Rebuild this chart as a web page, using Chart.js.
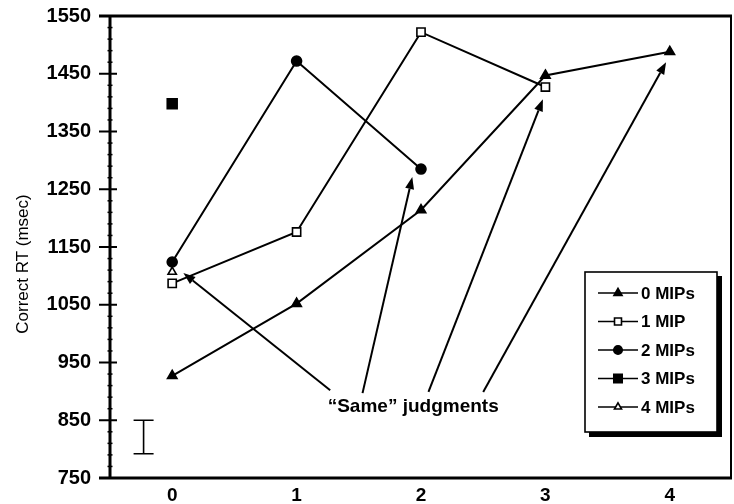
<!DOCTYPE html>
<html>
<head>
<meta charset="utf-8">
<title>Correct RT by MIPs</title>
<script src="https://cdn.jsdelivr.net/npm/chart.js@4/dist/chart.umd.min.js"></script>
<style>
  html, body { margin: 0; padding: 0; background: #fff; }
  canvas { display: block; }
</style>
</head>
<body>
<canvas id="rt" width="734" height="504"></canvas>
<script>
// Number of MIPs along the x axis
const categories = [0, 1, 2, 3, 4];
const xTickLabels = ['0', '1', '2', '3', '4'];
const yTickLabels = [750, 850, 950, 1050, 1150, 1250, 1350, 1450, 1550];

// Mean correct RT (msec) per condition
const rt0Mips = [927, 1052, 1214, 1447, 1488];
const rt1Mip  = [1087, 1176, 1522, 1427];
const rt2Mips = [1124, 1472, 1285];
const rt3Mips = [1398];
const rt4Mips = [1107];

const seriesNames = ['0 MIPs', '1 MIP', '2 MIPs', '3 MIPs', '4 MIPs'];

// Error bar (msec) drawn in the lower-left corner
const errorBarX = -0.23;
const errorBarLow = 792;
const errorBarHigh = 850;

// "Same" judgments callout: label anchor and arrows (tail -> head), in data units
const calloutText = '\u201CSame\u201D judgments';
const calloutAnchor = { x: 1.25, y: 873 };
const calloutTails = [[1.27, 902], [1.53, 897], [2.06, 899], [2.50, 899]];
const calloutHeads = [[0.09, 1105], [1.93, 1271], [2.98, 1406], [3.97, 1470]];

const toPoints = vals => vals.map((v, i) => ({ x: categories[i], y: v }));

const FONT = '"Liberation Sans", Arial, Helvetica, sans-serif';

const common = {
  borderColor: '#000',
  borderWidth: 2,
  pointBorderColor: '#000',
  pointBorderWidth: 1.6,
  showLine: true,
  tension: 0
};

const datasets = [
  { ...common, label: seriesNames[0], data: toPoints(rt0Mips),
    pointStyle: 'triangle', pointRadius: 5.5, pointBackgroundColor: '#000',
    pointRotation: [-120, -120, -120, 0, 0] },
  { ...common, label: seriesNames[1], data: toPoints(rt1Mip),
    pointStyle: 'rect', pointRadius: 5.8, pointBackgroundColor: '#fff' },
  { ...common, label: seriesNames[2], data: toPoints(rt2Mips),
    pointStyle: 'circle', pointRadius: 5, pointBackgroundColor: '#000' },
  { ...common, label: seriesNames[3], data: toPoints(rt3Mips),
    pointStyle: 'rect', pointRadius: 7, pointBackgroundColor: '#000' },
  { ...common, label: seriesNames[4], data: toPoints(rt4Mips),
    pointStyle: 'triangle', pointRadius: 4.8, pointBackgroundColor: '#fff' }
];

// Frame, y-axis tick marks, error bar, callout and boxed legend
const decorations = {
  id: 'decorations',
  beforeDatasetsDraw(chart) {
    const { ctx, chartArea: a, scales: { x, y } } = chart;
    ctx.save();
    ctx.strokeStyle = '#000';
    ctx.lineCap = 'butt';

    // y-axis ticks: major every 100, minor every 20
    for (let v = y.min; v <= y.max + 0.01; v += 20) {
      const py = y.getPixelForValue(v);
      const major = yTickLabels.includes(v);
      ctx.lineWidth = major ? 2 : 1.5;
      ctx.beginPath();
      ctx.moveTo(a.left - (major ? 11 : 2.5), py);
      ctx.lineTo(a.left + (major ? 7 : 2.5), py);
      ctx.stroke();
    }

    // frame
    ctx.lineWidth = 3;
    ctx.beginPath();
    ctx.moveTo(a.left - 11, a.top); ctx.lineTo(a.right, a.top);
    ctx.moveTo(a.left - 11, a.bottom); ctx.lineTo(a.right, a.bottom);
    ctx.moveTo(a.left, a.top); ctx.lineTo(a.left, a.bottom);
    ctx.stroke();
    ctx.lineWidth = 2;
    ctx.beginPath();
    ctx.moveTo(a.right - 1, a.top); ctx.lineTo(a.right - 1, a.bottom);
    ctx.stroke();

    // error bar
    const ex = x.getPixelForValue(errorBarX);
    const ey1 = y.getPixelForValue(errorBarLow);
    const ey2 = y.getPixelForValue(errorBarHigh);
    ctx.lineWidth = 1.6;
    ctx.beginPath();
    ctx.moveTo(ex, ey1); ctx.lineTo(ex, ey2);
    ctx.moveTo(ex - 10, ey1); ctx.lineTo(ex + 10, ey1);
    ctx.moveTo(ex - 10, ey2); ctx.lineTo(ex + 10, ey2);
    ctx.stroke();

    // callout arrows
    ctx.lineWidth = 2;
    ctx.fillStyle = '#000';
    calloutTails.forEach((t, i) => {
      const h = calloutHeads[i];
      const x0 = x.getPixelForValue(t[0]), y0 = y.getPixelForValue(t[1]);
      const x1 = x.getPixelForValue(h[0]), y1 = y.getPixelForValue(h[1]);
      const ang = Math.atan2(y1 - y0, x1 - x0);
      const len = 12, half = 4.5;
      const bx = x1 - len * Math.cos(ang), by = y1 - len * Math.sin(ang);
      ctx.beginPath();
      ctx.moveTo(x0, y0); ctx.lineTo(bx, by);
      ctx.stroke();
      ctx.beginPath();
      ctx.moveTo(x1, y1);
      ctx.lineTo(bx + half * Math.sin(ang), by - half * Math.cos(ang));
      ctx.lineTo(bx - half * Math.sin(ang), by + half * Math.cos(ang));
      ctx.closePath();
      ctx.fill();
    });
    ctx.font = 'bold 19px ' + FONT;
    ctx.textAlign = 'left';
    ctx.textBaseline = 'middle';
    ctx.fillText(calloutText, x.getPixelForValue(calloutAnchor.x), y.getPixelForValue(calloutAnchor.y));

    // y-axis title
    ctx.save();
    ctx.translate(23, 264);
    ctx.rotate(-Math.PI / 2);
    ctx.font = '17px ' + FONT;
    ctx.textAlign = 'center';
    ctx.textBaseline = 'middle';
    ctx.fillText('Correct RT (msec)', 0, 0);
    ctx.restore();

    ctx.restore();
  },
  afterDatasetsDraw(chart) {
    const { ctx, chartArea: a } = chart;
    // legend box anchored to the lower-right of the plot area
    const bx = a.right - 147, by = a.top + 256, bw = 132, bh = 160;
    ctx.save();
    ctx.fillStyle = '#000';
    ctx.fillRect(bx + 4, by + 4, bw + 1, bh + 1);
    ctx.fillStyle = '#fff';
    ctx.fillRect(bx, by, bw, bh);
    ctx.strokeStyle = '#000';
    ctx.lineWidth = 1.6;
    ctx.strokeRect(bx, by, bw, bh);

    ctx.font = 'bold 17px ' + FONT;
    ctx.textAlign = 'left';
    ctx.textBaseline = 'middle';
    chart.data.datasets.forEach((ds, i) => {
      const cy = by + 21 + i * 28.5;
      ctx.strokeStyle = '#000';
      ctx.lineWidth = 1.6;
      ctx.beginPath();
      ctx.moveTo(bx + 13, cy); ctx.lineTo(bx + 53, cy);
      ctx.stroke();
      ctx.fillStyle = ds.pointBackgroundColor;
      ctx.lineWidth = ds.pointBorderWidth;
      Chart.helpers.drawPoint(ctx, {
        pointStyle: ds.pointStyle,
        radius: ds.pointRadius * 0.85,
        rotation: 0,
        borderWidth: ds.pointBorderWidth
      }, bx + 33, cy);
      ctx.fillStyle = '#000';
      ctx.fillText(ds.label, bx + 56, cy + 1);
    });
    ctx.restore();
  }
};

new Chart(document.getElementById('rt'), {
  type: 'line',
  data: { datasets },
  options: {
    responsive: false,
    animation: false,
    layout: { autoPadding: false, padding: { top: 16, right: 2, left: 0, bottom: 0 } },
    plugins: { legend: { display: false }, tooltip: { enabled: false } },
    scales: {
      x: {
        type: 'linear',
        min: -0.5,
        max: 4.5,
        afterBuildTicks: s => { s.ticks = categories.map(v => ({ value: v })); },
        afterFit: s => { s.height = 26; s.paddingLeft = 0; s.paddingRight = 0; },
        grid: { display: false, drawTicks: false },
        border: { display: false },
        ticks: {
          padding: 6,
          color: '#000',
          font: { family: FONT, size: 19, weight: 'bold' },
          callback: (v, i) => xTickLabels[i]
        }
      },
      y: {
        min: 750,
        max: 1550,
        afterBuildTicks: s => { s.ticks = yTickLabels.map(v => ({ value: v })); },
        afterFit: s => { s.width = 110; s.paddingTop = 0; s.paddingBottom = 0; },
        grid: { display: false, drawTicks: false },
        border: { display: false },
        ticks: {
          padding: 19,
          color: '#000',
          font: { family: FONT, size: 20, weight: 'bold' },
          callback: v => String(v)
        }
      }
    }
  },
  plugins: [decorations]
});
</script>
</body>
</html>
